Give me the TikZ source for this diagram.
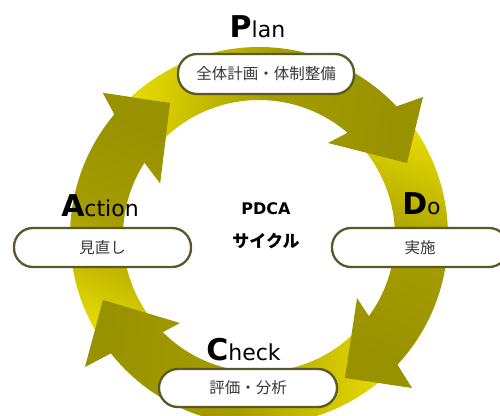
\documentclass[tikz,border=0pt]{standalone}
\usepackage{fontspec}
\setmainfont{DejaVu Sans}
\newfontfamily\jpfont{Noto Sans CJK JP}
\usetikzlibrary{calc}
\definecolor{ylw}{RGB}{232,220,0}
\definecolor{olv}{RGB}{152,145,0}
\definecolor{bxline}{RGB}{88,88,40}
\definecolor{bxtext}{RGB}{55,55,55}
\begin{document}
\begin{tikzpicture}[x=1pt,y=1pt,
  pbox/.style={draw=bxline, line width=2.3pt, fill=white, rounded corners=19pt,
    minimum height=39pt, inner sep=0pt, font=\jpfont\fontsize{15.5}{16}\selectfont, text=bxtext},
  lbl/.style={anchor=base, inner sep=0pt, text=black},
  arr/.style={top color=olv, bottom color=ylw, middle color=olv!85!ylw}
]
\clip (0,0) rectangle (500,415);
\coordinate (C) at (259,179);
% arrow 4 : Action -> Plan
\shade[arr, shading angle=-25]
  ($(C)+(216.4:189)$) arc[start angle=216.4, end angle=139.9, radius=189]
  -- (103,322) -- (170,312) -- (160,232)
  -- ($(C)+(147.4:136)$) arc[start angle=147.4, end angle=221, radius=136] -- cycle;
% arrow 3 : Check -> Action
\shade[arr, shading angle=85]
  ($(C)+(-44.9:189)$) arc[start angle=-44.9, end angle=-141.6, radius=189]
  -- (85,48) -- (103,115) -- (180,92)
  -- ($(C)+(-135:136)$) arc[start angle=-135, end angle=-40.1, radius=136] -- cycle;
% arrow 2 : Do -> Check
\shade[arr, shading angle=160]
  ($(C)+(41.3:189)$) arc[start angle=41.3, end angle=-42.9, radius=189]
  -- (412,27) -- (345,37) -- (357,117)
  -- ($(C)+(-36.1:136)$) arc[start angle=-36.1, end angle=45.4, radius=136] -- cycle;
% arrow 1 : Plan -> Do
\shade[arr, shading angle=-100]
  ($(C)+(137.9:189)$) arc[start angle=137.9, end angle=43.3, radius=189]
  -- (423,318) -- (407,252) -- (328,272)
  -- ($(C)+(49.4:136)$) arc[start angle=49.4, end angle=143.4, radius=136] -- cycle;
% head of arrow 4 again, above the tail of arrow 1
\begin{scope}
\clip (97,328) -- (181,315) -- (163,225) -- cycle;
\shade[arr, shading angle=-25]
  ($(C)+(216.4:189)$) arc[start angle=216.4, end angle=139.9, radius=189]
  -- (103,322) -- (170,312) -- (160,232)
  -- ($(C)+(147.4:136)$) arc[start angle=147.4, end angle=221, radius=136] -- cycle;
\end{scope}
% boxes
\node[pbox, minimum width=176pt, minimum height=40pt] (pb) at (266,341) {全体計画・体制整備};
\node[pbox, minimum width=177pt] (ab) at (102.5,167.5) {見直し};
\node[pbox, minimum width=176pt] (db) at (420,167.5) {実施};
\node[pbox, minimum width=178pt, minimum height=38pt] (cb) at (248,27) {評価・分析};
% labels
\node[lbl] (plan) at (257.5,377) {{\bfseries\fontsize{30}{30}\selectfont P}{\fontsize{22}{22}\selectfont lan}};
\node[lbl] (action) at (100,198) {{\bfseries\fontsize{30}{30}\selectfont A}{\fontsize{22}{22}\selectfont ction}};
\node[lbl] (do) at (421.5,200) {{\bfseries\fontsize{30}{30}\selectfont D}{\fontsize{22}{22}\selectfont o}};
\node[lbl] (check) at (243.5,55) {{\bfseries\fontsize{30}{30}\selectfont C}{\fontsize{22}{22}\selectfont heck}};
% centre
\node[font=\bfseries\fontsize{16}{16}\selectfont] (pdca) at (266,206) {PDCA};
\node[font=\jpfont\bfseries\fontsize{17}{17}\selectfont] (cyc) at (266,173.5) {サイクル};
\end{tikzpicture}
\end{document}
